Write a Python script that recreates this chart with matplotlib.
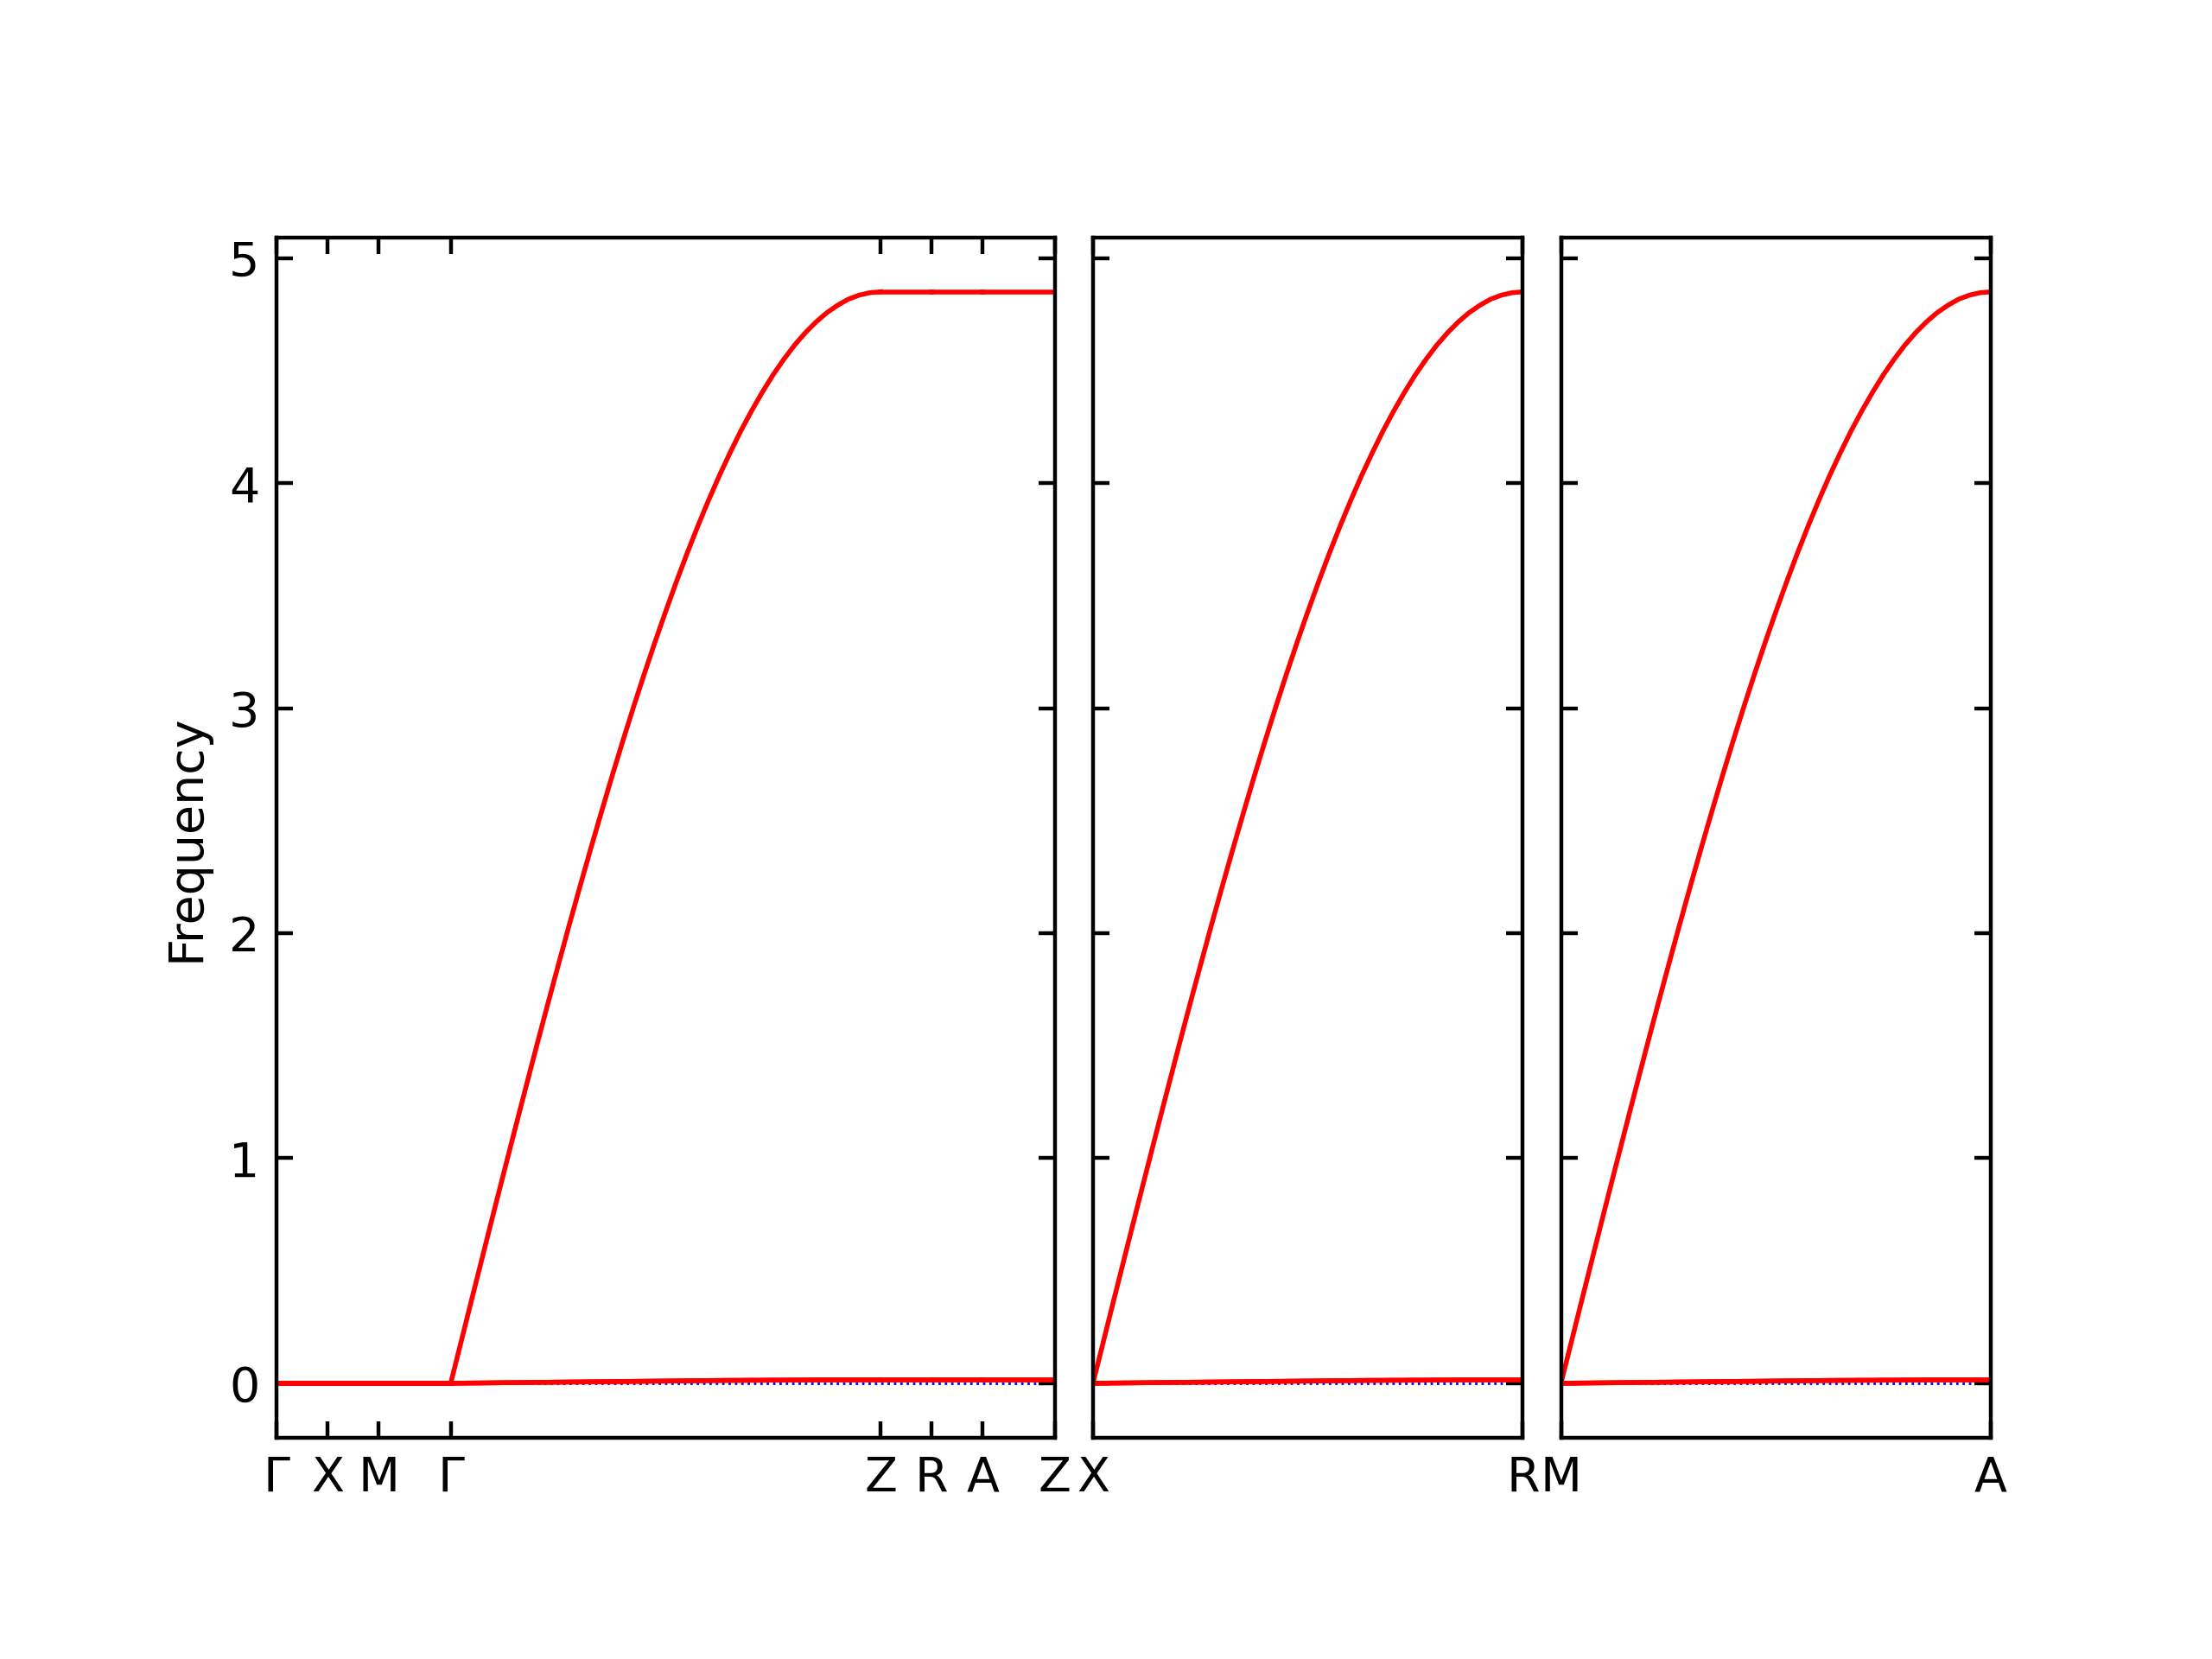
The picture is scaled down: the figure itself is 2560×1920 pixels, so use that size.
import matplotlib
matplotlib.use("Agg")
import matplotlib.pyplot as plt
import numpy as np

# q-point fraction along each segment (41 points per segment)
q_frac = np.linspace(0, 1, 41)

# band values
la_rise = [0.0, 0.190, 0.381, 0.570, 0.759, 0.946, 1.132, 1.316, 1.499, 1.679,
           1.856, 2.031, 2.202, 2.370, 2.534, 2.695, 2.851, 3.003, 3.150, 3.292,
           3.429, 3.561, 3.688, 3.809, 3.924, 4.033, 4.135, 4.232, 4.321, 4.404,
           4.481, 4.550, 4.613, 4.668, 4.716, 4.757, 4.790, 4.817, 4.835, 4.846, 4.850]
ta_rise = [0.0, 0.0005, 0.001, 0.0015, 0.002, 0.0025, 0.003, 0.0035, 0.004, 0.0045,
           0.005, 0.0055, 0.006, 0.0065, 0.007, 0.0075, 0.008, 0.0085, 0.009, 0.0095,
           0.010, 0.0105, 0.011, 0.0115, 0.012, 0.0125, 0.013, 0.013, 0.0135, 0.0135,
           0.014, 0.014, 0.0145, 0.0145, 0.015, 0.015, 0.015, 0.015, 0.015, 0.015, 0.015]
zero_band = [0.0] * 41
la_top = [4.85] * 41
ta_top = [0.015] * 41

# segment lengths (reciprocal distance)
seg_len = [[0.059, 0.059, 0.0834, 0.497, 0.059, 0.059, 0.0834],
           [0.497],
           [0.497]]

# bands in each segment of each panel
flat_zero = [zero_band, zero_band, zero_band]
rising = [ta_rise, ta_rise, la_rise]
flat_top = [ta_top, ta_top, la_top]
seg_bands = [[flat_zero, flat_zero, flat_zero, rising, flat_top, flat_top, flat_top],
             [rising],
             [rising]]

labels = [["Γ", "X", "M", "Γ", "Z", "R", "A", "Z"],
          ["X", "R"],
          ["M", "A"]]

ymin, ymax = -0.2425, 5.0925

fig = plt.figure(figsize=(6.4, 4.8), dpi=400)
widths = [sum(s) for s in seg_len]
gs = fig.add_gridspec(1, 3, width_ratios=widths, left=0.125, right=0.9,
                      bottom=0.1333, top=0.857, wspace=0.07)

for i in range(3):
    ax = fig.add_subplot(gs[0, i])
    ax.axhline(0, linestyle=":", linewidth=0.5, color="b", zorder=1)
    start = 0.0
    ticks = [0.0]
    for length, bands in zip(seg_len[i], seg_bands[i]):
        x = start + q_frac * length
        for b in bands:
            ax.plot(x, b, color="r", linewidth=1.0, zorder=2)
        start += length
        ticks.append(start)
    ax.set_xlim(0, start)
    ax.set_ylim(ymin, ymax)
    ax.set_xticks(ticks)
    ax.set_xticklabels(labels[i])
    ax.set_yticks(range(6))
    ax.tick_params(direction="in", top=True, right=True)
    if i == 0:
        ax.set_ylabel("Frequency")
    else:
        ax.set_yticklabels([])

fig.savefig("out.png", dpi=400)
